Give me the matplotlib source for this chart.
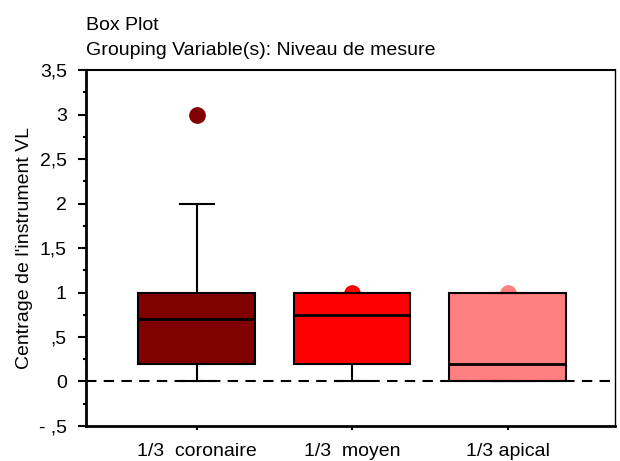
import matplotlib.pyplot as plt
from matplotlib.ticker import MultipleLocator

plt.rcParams['font.family'] = ['Liberation Sans', 'DejaVu Sans']

# données
groupes = ['1/3  coronaire', '1/3  moyen', '1/3 apical']
q1 = [0.2, 0.2, 0.0]
mediane = [0.7, 0.75, 0.2]
q3 = [1.0, 1.0, 1.0]
moustache_bas = [0.0, 0.0, 0.0]
moustache_haut = [2.0, 1.0, 1.0]
aberrants = [[3.0], [1.0], [1.0]]
couleurs = ['#800000', '#ff0000', '#ff8080']

yticks = [-0.5, 0, 0.5, 1, 1.5, 2, 2.5, 3, 3.5]
ytick_labels = ['- ,5', '0', ',5', '1', '1,5', '2', '2,5', '3', '3,5']

fig = plt.figure(figsize=(6.2, 4.61), dpi=100)
ax = fig.add_axes([0.139, 0.076, 0.853, 0.772])

stats = []
for i in range(len(groupes)):
    stats.append(dict(label=groupes[i], q1=q1[i], med=mediane[i], q3=q3[i],
                      whislo=moustache_bas[i], whishi=moustache_haut[i], fliers=[]))

pos = [1, 2, 3]
ax.axhline(0, color='black', lw=1.5, ls=(0, (5, 3.5)), zorder=1)

# points aberrants (derrière les boîtes)
for i in range(len(groupes)):
    ax.plot([pos[i]] * len(aberrants[i]), aberrants[i], 'o', color=couleurs[i],
            markersize=11, zorder=2)

bp = ax.bxp(stats, positions=pos, widths=0.75, patch_artist=True,
            showfliers=False, manage_ticks=False,
            boxprops=dict(lw=1.5, edgecolor='black'),
            medianprops=dict(color='black', lw=2),
            whiskerprops=dict(color='black', lw=1.5),
            capprops=dict(color='black', lw=1.5), capwidths=0.22)
for patch, c in zip(bp['boxes'], couleurs):
    patch.set_facecolor(c)
    patch.set_zorder(3)
for k in ['medians', 'whiskers', 'caps']:
    for l in bp[k]:
        l.set_zorder(4)

ax.set_xlim(0.29, 3.69)
ax.set_ylim(-0.5, 3.5)
ax.set_xticks(pos)
ax.set_xticklabels(groupes, fontsize=14)
ax.set_yticks(yticks)
ax.set_yticklabels(ytick_labels, fontsize=14)
ax.yaxis.set_minor_locator(MultipleLocator(0.25))
ax.tick_params(axis='y', which='major', length=6, width=1.5, pad=8)
ax.tick_params(axis='y', which='minor', length=2.5, width=1.5)
ax.tick_params(axis='x', length=3, width=1.5, pad=9)
ax.set_ylabel("Centrage de l'instrument VL", fontsize=14, labelpad=4)

ax.spines['left'].set_linewidth(2)
ax.spines['bottom'].set_linewidth(2)
ax.spines['top'].set_linewidth(1.5)
ax.spines['right'].set_linewidth(1)

fig.text(0.139, 0.935, 'Box Plot', fontsize=14, va='baseline')
fig.text(0.139, 0.881, 'Grouping Variable(s): Niveau de mesure', fontsize=14, va='baseline')

fig.savefig('out.png', dpi=100)
